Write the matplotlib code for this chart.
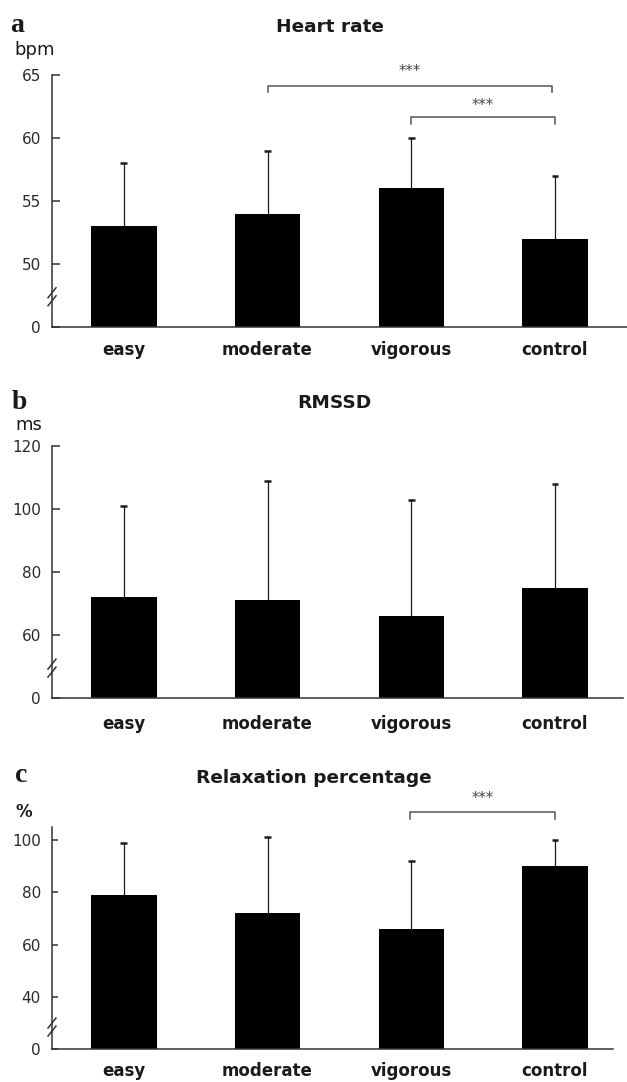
import matplotlib
matplotlib.use("Agg")
import matplotlib.pyplot as plt

# groups and values
groups = ["easy", "moderate", "vigorous", "control"]

hr_mean = [53, 54, 56, 52]
hr_top = [58, 59, 60, 57]

rmssd_mean = [72, 71, 66, 75]
rmssd_top = [101, 109, 103, 108]

relax_mean = [79, 72, 66, 90]
relax_top = [99, 101, 92, 100]

W, H = 627, 1082
plt.rcParams['font.family'] = ['DejaVu Sans']
ink = '#1a1a1a'

fig = plt.figure(figsize=(W / 100, H / 100), dpi=100)


def px_rect(left, right, top, bottom):
    return [left / W, 1 - bottom / H, (right - left) / W, (bottom - top) / H]


def ftext(x, y, s, **kw):
    fig.text(x / W, 1 - y / H, s, color=ink, **kw)


def panel(px, means, tops, ylim, ticks, brk, bracks, xpad=9, tlen=5):
    left, right, top, bottom = px
    ax = fig.add_axes(px_rect(left, right, top, bottom))
    xs = list(range(len(groups)))
    ax.bar(xs, means, width=0.455, color='black', zorder=2)
    # upper error bars only
    ax.vlines(xs, means, tops, color=ink, lw=0.9, zorder=1)
    ax.hlines(tops, [x - 0.024 for x in xs], [x + 0.024 for x in xs],
              color=ink, lw=1.8, zorder=1)
    ax.set_xlim(-0.5, -0.5 + (right - left) / 143.7)
    ax.set_ylim(*ylim)
    ax.set_yticks(ticks)
    ax.set_yticklabels(['0'] + [str(t) for t in ticks[1:]])
    ax.set_xticks(xs)
    ax.set_xticklabels(groups, fontweight='bold')
    for s in ['top', 'right']:
        ax.spines[s].set_visible(False)
    for s in ['left', 'bottom']:
        ax.spines[s].set_linewidth(1.1)
        ax.spines[s].set_color('#333333')
    ax.tick_params(axis='y', direction='in', length=tlen, width=1.1,
                   color='#333333', labelsize=11, labelcolor='#2a2a2a', pad=8)
    ax.tick_params(axis='x', length=0, labelsize=12, labelcolor=ink, pad=xpad)
    # axis break marks
    span = ylim[1] - ylim[0]
    per_px = span / (bottom - top)
    tr = ax.get_yaxis_transform()
    dx = 4 / (right - left)
    for off in (-4, 4):
        yc = brk + off * per_px
        ax.plot([-dx, dx], [yc - 5 * per_px, yc + 5 * per_px],
                transform=tr, color='#333333', lw=1.1, clip_on=False)
    # significance brackets
    for x0, x1, yb, drop, ys in bracks:
        ax.plot([x0, x0, x1, x1], [yb - drop, yb, yb, yb - drop],
                color='#555555', lw=1.1, clip_on=False)
        ax.text((x0 + x1) / 2, ys, '***', ha='center', va='center',
                fontsize=10.5, color='#444444', clip_on=False)
    return ax


# panel a
panel((52, 627, 75, 327), hr_mean, hr_top, (45, 65),
      [45, 50, 55, 60, 65], 47.4,
      [(1.0, 2.98, 64.1, 0.45, 65.3), (2.0, 3.0, 61.7, 0.55, 62.6)],
      xpad=10, tlen=6)
ftext(10, 25, 'a', fontsize=20, fontweight='bold', family='Liberation Serif', va='center')
ftext(14, 50, 'bpm', fontsize=13, va='center')
ftext(330, 27, 'Heart rate', fontsize=13.3, fontweight='bold', ha='center', va='center')

# panel b
panel((52, 623, 446, 698), rmssd_mean, rmssd_top, (40, 120),
      [40, 60, 80, 100, 120], 49.5, [], xpad=12, tlen=6)
ftext(12, 403, 'b', fontsize=20, fontweight='bold', family='Liberation Serif', va='center')
ftext(15, 425, 'ms', fontsize=13, va='center')
ftext(334, 403, 'RMSSD', fontsize=13.3, fontweight='bold', ha='center', va='center')

# panel c
panel((52, 613, 827, 1049), relax_mean, relax_top, (20, 105),
      [20, 40, 60, 80, 100], 28.4,
      [(1.99, 3.0, 110.7, 2.7, 116.0)], xpad=9, tlen=4)
ftext(15, 776, 'c', fontsize=20, fontweight='bold', family='Liberation Serif', va='center')
ftext(15, 812, '%', fontsize=12, fontweight='bold', va='center')
ftext(314, 778, 'Relaxation percentage', fontsize=13.3, fontweight='bold', ha='center', va='center')

fig.savefig('out.png', dpi=100)
